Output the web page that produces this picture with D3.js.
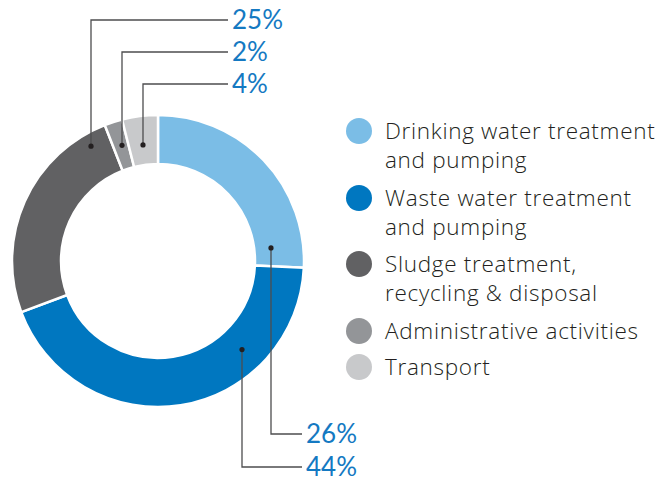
<!DOCTYPE html>
<html>
<head>
<meta charset="utf-8">
<script src="https://cdnjs.cloudflare.com/ajax/libs/d3/7.8.5/d3.min.js"></script>
<style>
  body { margin: 0; background: #fff; }
  svg { display: block; font-family: Lato, "Open Sans", sans-serif; }
</style>
</head>
<body>
<svg id="chart"></svg>
<script>
// Chart data
var categories = ["Drinking water treatment|and pumping", "Waste water treatment|and pumping",
                  "Sludge treatment,|recycling & disposal", "Administrative activities", "Transport"];
var shares = [26, 44, 25, 2, 4];
var colors = ["#7bbde6", "#0077c0", "#616163", "#939598", "#c8c9cb"];

var width = 660, height = 479;
var cx = 158, cy = 261, outerR = 146, innerR = 97;

var svg = d3.select("#chart").attr("width", width).attr("height", height);

var pie = d3.pie().sort(null).value(d => d);
var arcs = pie(shares);
var arc = d3.arc().innerRadius(innerR).outerRadius(outerR);

var g = svg.append("g").attr("transform", "translate(" + cx + "," + cy + ")");

// slices, with white gaps
g.selectAll("path")
  .data(arcs)
  .enter()
  .append("path")
    .attr("d", arc)
    .attr("fill", (d, i) => colors[i])
    .attr("stroke", "#fff")
    .attr("stroke-width", 2.5);

// leader lines: where in the slice the dot sits (t = fraction of slice angle, r = radius),
// which y level the elbow goes to, and where the line ends
var leaders = [
  { t: 0.9,  r: 114, y: 434, endX: 302 },
  { t: 0.28, r: 122, y: 467, endX: 302 },
  { t: 0.9,  r: 133, y: 20,  endX: 228 },
  { t: 0.6,  r: 121, y: 52,  endX: 228 },
  { t: 0.5,  r: 117, y: 84,  endX: 228 }
];

arcs.forEach(function(a, i) {
  var L = leaders[i];
  var ang = a.startAngle + (a.endAngle - a.startAngle) * L.t;
  var px = Math.round(cx + L.r * Math.sin(ang));
  var py = cy - L.r * Math.cos(ang);

  svg.append("path")
    .attr("d", "M" + px + "," + py + "V" + L.y + "H" + L.endX)
    .attr("fill", "none")
    .attr("stroke", "#4d4d4f")
    .attr("stroke-width", 1.3);

  svg.append("circle")
    .attr("cx", px)
    .attr("cy", py)
    .attr("r", 2.6)
    .attr("fill", "#231f20");

  svg.append("text")
    .attr("x", L.endX + 4)
    .attr("y", L.y)
    .attr("dy", "0.35em")
    .attr("fill", "#1479c2")
    .style("font-size", "26px")
    .style("font-weight", 400)
    .text(shares[i] + "%");
});

// legend
var legendY = [131, 198, 264, 331, 367];
var legend = svg.append("g").style("font-family", "'Open Sans', sans-serif");
categories.forEach(function(c, i) {
  legend.append("circle")
    .attr("cx", 359)
    .attr("cy", legendY[i])
    .attr("r", 13)
    .attr("fill", colors[i]);

  var t = legend.append("text")
    .attr("x", 385)
    .attr("y", legendY[i])
    .attr("fill", "#231f20")
    .style("font-size", "22.5px")
    .style("letter-spacing", "0.7px")
    .style("font-weight", 300);
  c.split("|").forEach(function(line, j) {
    t.append("tspan").attr("x", 385).attr("dy", j === 0 ? "0.36em" : "29px").text(line);
  });
});
</script>
</body>
</html>
